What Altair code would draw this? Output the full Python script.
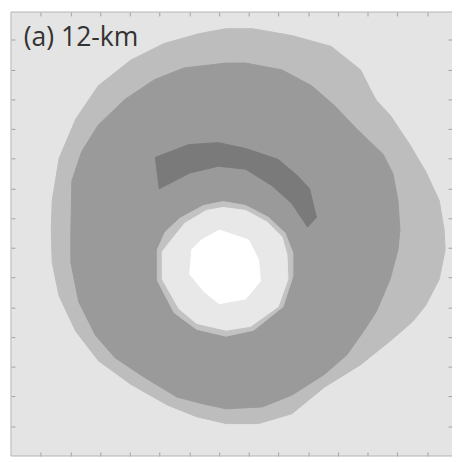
import altair as alt
import pandas as pd

# Contour outlines (x to the right, y downward from top of frame), grid spans 0..454
outer_x = [219, 246, 286, 326, 356, 366, 372, 386, 406, 422, 436, 441, 442, 436, 422, 409, 386, 356, 319, 286, 252, 219, 189, 159, 122, 89, 66, 49, 42, 41, 42, 49, 66, 89, 122, 156, 192]
outer_y = [19, 19, 26, 37, 61, 81, 92, 107, 137, 164, 194, 224, 244, 274, 301, 317, 337, 361, 384, 411, 421, 421, 414, 402, 381, 357, 327, 291, 257, 224, 194, 151, 111, 77, 51, 34, 24]

main_x = [219, 239, 276, 306, 329, 352, 379, 389, 394, 396, 394, 386, 372, 359, 342, 319, 286, 256, 219, 196, 169, 136, 106, 86, 69, 61, 61, 62, 72, 89, 116, 146, 176]
main_y = [54, 54, 61, 77, 97, 121, 147, 167, 194, 224, 244, 274, 307, 327, 351, 371, 392, 404, 406, 401, 394, 374, 354, 331, 297, 257, 224, 174, 144, 117, 91, 71, 59]

arc_x = [147, 181, 211, 239, 272, 292, 304, 311, 302, 286, 266, 239, 211, 182, 151]
arc_y = [150, 137, 135, 141, 152, 169, 182, 211, 221, 197, 179, 162, 159, 166, 182]

ring_x = [149, 157, 172, 196, 216, 239, 262, 279, 287, 287, 277, 247, 219, 189, 166, 149]
ring_y = [244, 226, 212, 199, 195, 199, 211, 227, 247, 271, 302, 326, 332, 325, 308, 275]

eye_x = [154, 161, 177, 199, 216, 239, 261, 276, 281, 282, 272, 244, 219, 189, 171, 154]
eye_y = [246, 237, 217, 204, 201, 204, 216, 231, 249, 274, 302, 322, 326, 319, 304, 274]

core_x = [184, 194, 212, 242, 252, 254, 239, 212, 197, 182]
core_y = [244, 234, 224, 234, 254, 276, 294, 299, 287, 269]

shapes = [
    ("outer", outer_x, outer_y, "#bdbdbd"),
    ("main", main_x, main_y, "#9a9a9a"),
    ("arc", arc_x, arc_y, "#7a7a7a"),
    ("ring", ring_x, ring_y, "#c2c2c2"),
    ("eye", eye_x, eye_y, "#e8e8e8"),
    ("core", core_x, core_y, "#ffffff"),
]

GRID = 454
ticks = [i * GRID / 15 for i in range(1, 15)]

xs = alt.Scale(domain=[0, 449], nice=False, zero=False)
ys = alt.Scale(domain=[2, GRID], nice=False, zero=False, reverse=True)

layers = []
for i, (name, px, py, col) in enumerate(shapes):
    df = pd.DataFrame({"x": px + [px[0]], "y": py + [py[0]], "o": list(range(len(px) + 1))})
    ax_x = alt.Axis(values=ticks, labels=False, domain=False, grid=False, ticks=True,
                    tickSize=4, tickColor="#a0a0a0", offset=-4, title=None,
                    orient="bottom" if i == 0 else "top")
    ax_y = alt.Axis(values=ticks, labels=False, domain=False, grid=False, ticks=True,
                    tickSize=4, tickColor="#a0a0a0", offset=-4, title=None,
                    orient="left" if i == 0 else "right")
    if i > 1:
        ax_x = None
        ax_y = None
    layers.append(
        alt.Chart(df).mark_line(fill=col, stroke=col, strokeWidth=1, interpolate="linear").encode(
            x=alt.X("x:Q", scale=xs, axis=ax_x),
            y=alt.Y("y:Q", scale=ys, axis=ax_y),
            order=alt.Order("o:Q"),
        )
    )

frame_df = pd.DataFrame({"x": [0, 0, 0], "x2": [0, 449, 449], "y": [2, 2, GRID], "y2": [GRID, 2, GRID]})
frame = alt.Chart(frame_df).mark_rule(color="#b4b4b4", strokeWidth=1).encode(
    x=alt.X("x:Q", scale=xs, axis=None), x2="x2:Q",
    y=alt.Y("y:Q", scale=ys, axis=None), y2="y2:Q",
)

label_df = pd.DataFrame({"x": [13], "y": [37], "t": ["(a) 12-km"]})
label = alt.Chart(label_df).mark_text(align="left", baseline="alphabetic", font="Open Sans",
                                      fontSize=27, color="#333333").encode(
    x=alt.X("x:Q", scale=xs, axis=None), y=alt.Y("y:Q", scale=ys, axis=None), text="t:N"
)

chart = alt.layer(*layers, frame, label).resolve_axis(x="independent", y="independent").properties(
    width=449, height=452,
    autosize=alt.AutoSizeParams(type="none"),
    padding={"left": 3, "top": 0, "right": 0, "bottom": 0},
).configure_view(fill="#e4e4e4", stroke=None)

chart.save("out.html", embed_options={"renderer": "svg", "actions": False})
